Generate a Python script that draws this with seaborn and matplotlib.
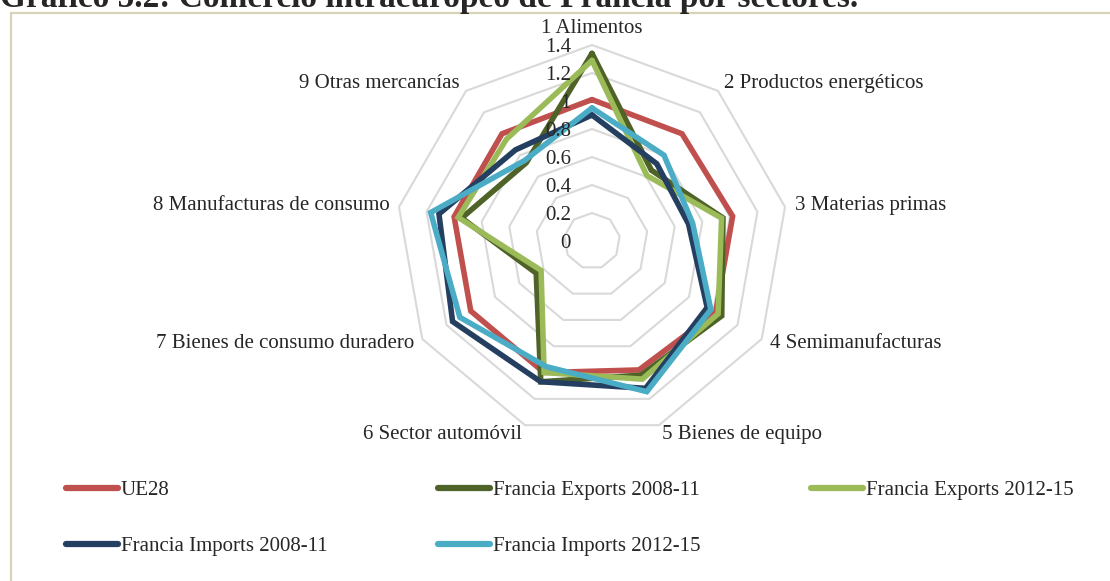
import numpy as np
import pandas as pd
import matplotlib
matplotlib.use("Agg")
import matplotlib.pyplot as plt
import matplotlib.transforms as mtransforms
from matplotlib.patches import Rectangle
from matplotlib.lines import Line2D
import seaborn as sns

# Data
sectores = ["1 Alimentos", "2 Productos energéticos", "3 Materias primas",
            "4 Semimanufacturas", "5 Bienes de equipo", "6 Sector automóvil",
            "7 Bienes de consumo duradero", "8 Manufacturas de consumo",
            "9 Otras mercancías"]
ue28 = [1.01, 1.00, 1.02, 1.02, 0.98, 1.00, 1.00, 1.00, 1.00]
exp_0811 = [1.34, 0.66, 0.95, 1.07, 1.02, 1.07, 0.46, 0.945, 0.73]
exp_1215 = [1.29, 0.61, 0.94, 1.04, 1.05, 1.00, 0.42, 0.97, 0.95]
imp_0811 = [0.90, 0.72, 0.70, 0.95, 1.12, 1.07, 1.15, 1.11, 0.85]
imp_1215 = [0.95, 0.80, 0.73, 0.98, 1.145, 0.955, 1.09, 1.17, 0.75]
serie_names = ["UE28", "Francia Exports 2008-11", "Francia Exports 2012-15",
               "Francia Imports 2008-11", "Francia Imports 2012-15"]
r_ticks = [0, 0.2, 0.4, 0.6, 0.8, 1, 1.2, 1.4]
tick_labels = ["0", "0.2", "0.4", "0.6", "0.8", "1", "1.2", "1.4"]

colors = ["#C0504D", "#4F6228", "#9BBB59", "#243F60", "#4BACC6"]
title = "Gráfico 5.2: Comercio intraeuropeo de Francia por sectores."

sns.set_style("white")
plt.rcParams['font.family'] = ['Liberation Serif', 'DejaVu Serif']
FS = 15

W, H = 1110, 581
fig = plt.figure(figsize=(W / 100, H / 100), dpi=100)

# radar centre and outer radius in pixels
cx, cy, R = 592, 241, 196
ax = fig.add_axes([(cx - R) / W, 1 - (cy + R) / H, 2 * R / W, 2 * R / H],
                  projection='polar')
ax.set_theta_offset(np.pi / 2)
ax.set_theta_direction(-1)
ax.set_facecolor('none')

n = len(sectores)
angles = np.linspace(0, 2 * np.pi, n, endpoint=False)
closed = np.append(angles, angles[0] + 2 * np.pi)

# polygon gridlines
for r in r_ticks[1:]:
    ax.plot(closed, [r] * (n + 1), color="#D9D9D9", lw=1.5, zorder=1, clip_on=False)

# long-form data for seaborn
rows = []
for name, vals in zip(serie_names, [ue28, exp_0811, exp_1215, imp_0811, imp_1215]):
    v = list(vals) + [vals[0]]
    for t, val in zip(closed, v):
        rows.append({"serie": name, "theta": t, "valor": val})
df = pd.DataFrame(rows)

sns.lineplot(data=df, x="theta", y="valor", hue="serie", hue_order=serie_names,
             palette=colors, sort=False, estimator=None, lw=4, ax=ax,
             legend=False, zorder=3)
for line in ax.get_lines()[len(r_ticks) - 1:]:
    line.set_solid_joinstyle('miter')
    line.set_clip_on(False)

ax.set_ylim(0, 1.4)
ax.set_xticks([])
ax.set_yticks([])
ax.grid(False)
ax.spines['polar'].set_visible(False)
ax.set_xlabel("")
ax.set_ylabel("")

# radial tick labels, left of the top axis
tick_tr = mtransforms.offset_copy(ax.transData, fig=fig, x=-21, y=-3, units='dots')
for r, lab in zip(r_ticks, tick_labels):
    ax.text(0, r, lab, transform=tick_tr, ha='right', va='center', fontsize=FS)

# category labels
for t, lab in zip(angles, sectores):
    deg = np.degrees(t)
    if deg < 1:
        ax.text(t, 1.52, lab, ha='center', va='center', fontsize=FS)
    elif deg < 179:
        ax.text(t, 1.47, lab, ha='left', va='center', fontsize=FS)
    else:
        ax.text(t, 1.47, lab, ha='right', va='center', fontsize=FS)

# frame around the chart area
fig.patches.append(Rectangle((11 / W, -0.05), 1.2, 1 - 13 / H + 0.05,
                             transform=fig.transFigure, fill=False,
                             edgecolor="#D8D3B7", lw=1.6))

# title (partly cut at the top)
fig.text(0, 1 - 7.5 / H, title, fontsize=24, fontweight='bold', ha='left', va='baseline')

# legend, filled column-wise
handles = [Line2D([], [], color=c, lw=4.5, solid_capstyle='round') for c in colors]
order = [0, 3, 1, 4, 2]
fig.legend([handles[i] for i in order], [serie_names[i] for i in order],
           ncol=3, loc='upper left', bbox_to_anchor=(47 / W, 1 - 462 / H),
           frameon=False, fontsize=FS, handlelength=2.5, handletextpad=0.15,
           columnspacing=5.3, labelspacing=1.75)

fig.savefig("out.png", dpi=100, facecolor='white')
